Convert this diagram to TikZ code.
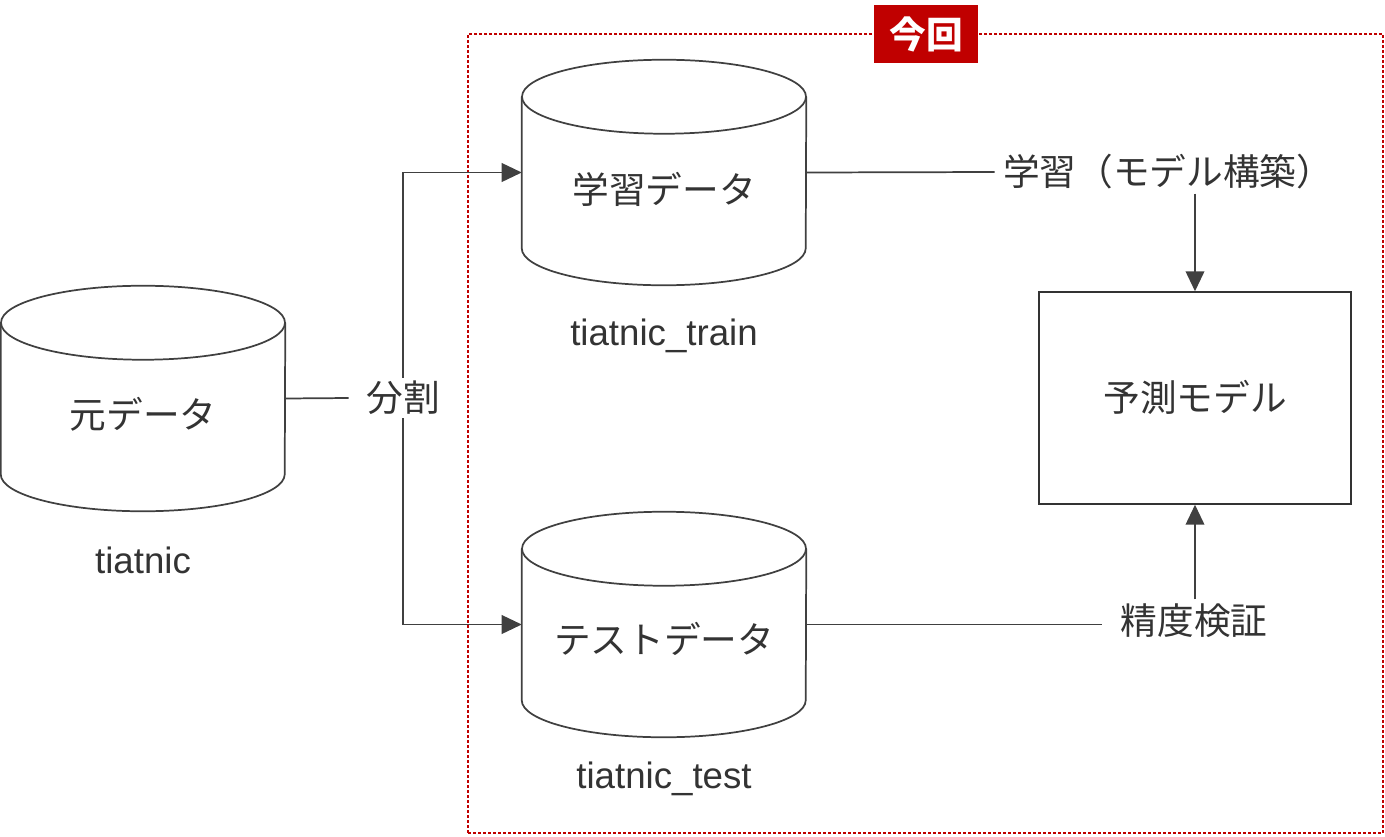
\documentclass[tikz,border=0pt]{standalone}
\usepackage{fontspec}
\setmainfont{Liberation Sans}
\newfontfamily\jp{Noto Sans CJK JP}
\usetikzlibrary{arrows.meta}
\definecolor{ln}{HTML}{404040}
\definecolor{tx}{HTML}{333333}
\definecolor{rd}{HTML}{C00000}
\newcommand\dbcyl[1]{%
  \draw[cylline] (#1.north west) -- (#1.south west)
    arc[start angle=180,end angle=360,x radius=106.5pt,y radius=27.75pt] -- (#1.north east);
  \draw[cylline] (#1.north) ellipse[x radius=106.5pt,y radius=27.75pt];}
\newcommand\jlow[1]{\raisebox{-0.24em}{#1}}
\newcommand\llow[1]{\raisebox{-0.3em}{#1}}
\begin{document}
\begin{tikzpicture}[x=0.75pt,y=-0.75pt,
  every node/.style={text=tx},
  jptext/.style={font=\jp\fontsize{27.5}{33}\selectfont, text height=0.88em, text depth=0.12em, inner sep=0pt},
  latin/.style={font=\fontsize{27.5}{33}\selectfont, text height=0.72em, text depth=0pt, inner sep=0pt},
  cylbody/.style={draw=none, minimum width=213pt, minimum height=113.25pt, inner sep=0pt},
  cylline/.style={draw=ln, line width=1.3pt},
  conn/.style={draw=ln, line width=1.3pt},
  arr/.style={draw=ln, line width=1.3pt, -{Triangle[length=15pt,width=14pt]}},
  modelbox/.style={draw=tx, line width=1.1pt, minimum width=234pt, minimum height=159pt},
  scopebox/.style={draw=rd, line width=1.5pt, dash pattern=on 2.25pt off 1.5pt, minimum width=686.25pt, minimum height=599.25pt, inner sep=0pt},
  tagbox/.style={fill=rd, text=white, font=\jp\bfseries\fontsize{27.5}{33}\selectfont, minimum width=78pt, minimum height=43.5pt, inner sep=0pt}
]
\useasboundingbox (0,0) rectangle (1385,836);

% scope frame
\node[scopebox] (scope) at (925.5,433.5) {};
\node[tagbox] (tag) at (926,34) {今回};

% cylinders
\node[cylbody] (src) at (143,398.5) {};
\node[cylbody] (train) at (664,172.5) {};
\node[cylbody] (test) at (664,624.5) {};
\dbcyl{src}
\dbcyl{train}
\dbcyl{test}

\node[jptext] (srcT) at (143,415) {\jlow{元データ}};
\node[jptext] (trainT) at (664,190) {\jlow{学習データ}};
\node[jptext] (testT) at (664,640) {\jlow{テストデータ}};

\node[latin] (srcL) at (143,558) {\llow{tiatnic}};
\node[latin] (trainL) at (664,330) {\llow{tiatnic\_train}};
\node[latin] (testL) at (664,773) {\llow{tiatnic\_test}};

% split
\node[jptext, inner xsep=13pt, inner ysep=10pt] (split) at (403,398) {\jlow{分割}};
\draw[conn] (src.east) -- (split.west);
\draw[arr] (split.north) |- (train.west);
\draw[arr] (split.south) |- (test.west);

% model
\node[modelbox, jptext, minimum width=234pt, minimum height=159pt, inner sep=0pt] (model) at (1195,398) {\jlow{予測モデル}};

\node[jptext, inner xsep=6pt, inner ysep=11pt] (learn) at (1168,172) {\jlow{学習（モデル構築）}};
\draw[conn] (train.east) -- (learn.west);
\draw[arr] (learn.south -| model.north) -- (model.north);

\node[jptext, inner xsep=14pt, inner ysep=11pt] (verify) at (1194,621) {\jlow{精度検証}};
\draw[conn] (test.east) -- (test.east -| verify.west);
\draw[arr] (verify.north -| model.south) -- (model.south);
\end{tikzpicture}
\end{document}
